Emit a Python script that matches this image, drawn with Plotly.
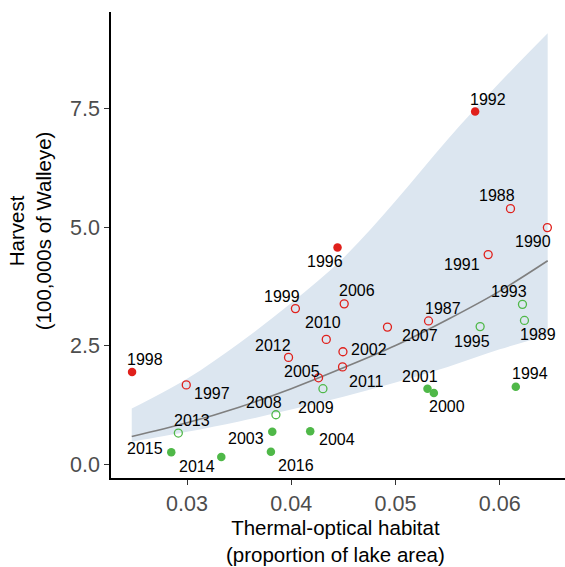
import plotly.graph_objects as go

# ---- data ----
years = [1987, 1988, 1989, 1990, 1991, 1992, 1993, 1994, 1995, 1996,
         1997, 1998, 1999, 2000, 2001, 2002, 2003, 2004, 2005, 2006,
         2007, 2008, 2009, 2010, 2011, 2012, 2013, 2014, 2015, 2016]
habitat = [0.05317, 0.06103, 0.06237, 0.06457, 0.05889, 0.05764, 0.06218, 0.06154, 0.05812, 0.04444,
           0.02993, 0.02473, 0.04040, 0.05368, 0.05307, 0.04496, 0.03818, 0.04182, 0.04262, 0.04508,
           0.04923, 0.03853, 0.04304, 0.04336, 0.04492, 0.03974, 0.02917, 0.03329, 0.02849, 0.03805]
harvest = [3.02, 5.39, 3.03, 4.99, 4.42, 7.44, 3.37, 1.63, 2.90, 4.57,
           1.67, 1.94, 3.28, 1.50, 1.59, 2.37, 0.68, 0.69, 1.82, 3.38,
           2.89, 1.04, 1.59, 2.63, 2.05, 2.25, 0.654, 0.148, 0.247, 0.26]
group = ["red", "red", "green", "red", "red", "red", "green", "green", "green", "red",
         "red", "red", "red", "green", "green", "red", "green", "green", "red", "red",
         "red", "green", "green", "red", "red", "red", "green", "green", "green", "green"]
filled = [False, False, False, False, False, True, False, True, False, True,
          False, True, False, True, True, False, True, True, False, False,
          False, False, False, False, False, False, False, True, True, True]

# fitted curve and confidence band
fit_x = [0.0247, 0.030, 0.035, 0.040, 0.045, 0.050, 0.055, 0.060, 0.0646]
fit_y = [0.58, 0.87, 1.20, 1.59, 2.03, 2.50, 3.05, 3.65, 4.29]
band_lo = [0.47, 0.68, 0.90, 1.15, 1.42, 1.72, 2.05, 2.42, 2.72]
band_hi = [1.17, 1.80, 2.55, 3.40, 4.35, 5.55, 6.85, 8.05, 9.09]

x_ticks = [0.03, 0.04, 0.05, 0.06]
x_tick_labels = ["0.03", "0.04", "0.05", "0.06"]
y_ticks = [0.0, 2.5, 5.0, 7.5]
y_tick_labels = ["0.0", "2.5", "5.0", "7.5"]

# label offsets (pixels, right / down) -- layout only
label_dx = [14, -13, 14, -14, -26, 13, -13, 14, -8, -13,
            26, 13, -13, 13, -8, 26, -26, 27, -17, 13,
            33, -12, -7, -3, 24, -16, 14, -24, -26, 25]
label_dy = [-12, -13, 14, 14, 10, -12, -13, -13, 15, 14,
            9, -13, -12, 14, -12, -2, 7, 8, -6, -13,
            8, -12, 19, -17, 15, -12, -13, 9, -4, 14]

RED = "#E0201B"
GREEN = "#4FB848"
FONT = "Liberation Sans, Arial, sans-serif"

fig = go.Figure()

fig.add_trace(go.Scatter(x=fit_x, y=band_lo, mode="lines", line=dict(width=0, shape="spline"),
                         hoverinfo="skip", showlegend=False))
fig.add_trace(go.Scatter(x=fit_x, y=band_hi, mode="lines", line=dict(width=0, shape="spline"),
                         fill="tonexty", fillcolor="#DCE6F0", hoverinfo="skip", showlegend=False))
fig.add_trace(go.Scatter(x=fit_x, y=fit_y, mode="lines",
                         line=dict(color="#7F7F7F", width=1.6, shape="spline"),
                         hoverinfo="skip", showlegend=False))

for col, cname in [("red", RED), ("green", GREEN)]:
    for fl in [False, True]:
        idx = [i for i in range(len(years)) if group[i] == col and filled[i] == fl]
        fig.add_trace(go.Scatter(
            x=[habitat[i] for i in idx], y=[harvest[i] for i in idx],
            mode="markers", showlegend=False,
            marker=dict(size=8.5 if fl else 8,
                        symbol="circle" if fl else "circle-open",
                        color=cname,
                        line=dict(color=cname, width=1.3 if not fl else 0)),
        ))

for i, yr in enumerate(years):
    fig.add_annotation(x=habitat[i], y=harvest[i], text=str(yr), showarrow=False,
                       xshift=label_dx[i], yshift=-label_dy[i],
                       font=dict(family=FONT, size=16, color="black"))

fig.add_annotation(xref="paper", yref="paper", x=-0.178, y=0.53,
                   text="Harvest<br>(100,000s of Walleye)", textangle=-90, showarrow=False,
                   xanchor="center", yanchor="middle",
                   font=dict(family=FONT, size=20.5, color="black"))
fig.add_annotation(xref="paper", yref="paper", x=0.494, y=-0.135,
                   text="Thermal-optical habitat<br>(proportion of lake area)", showarrow=False,
                   xanchor="center", yanchor="middle",
                   font=dict(family=FONT, size=20.5, color="black"))

fig.update_layout(
    width=565, height=567,
    margin=dict(l=111, r=0, t=12, b=89),
    plot_bgcolor="white", paper_bgcolor="white",
    xaxis=dict(range=[0.02271, 0.06626], tickvals=x_ticks, ticktext=x_tick_labels,
               showgrid=False, zeroline=False, showline=True, linecolor="black", linewidth=1.6,
               ticks="outside", ticklen=5, tickwidth=1.3, tickcolor="#333333",
               tickfont=dict(family=FONT, size=21.5, color="#4D4D4D")),
    yaxis=dict(range=[-0.295, 9.54], tickvals=y_ticks, ticktext=y_tick_labels,
               showgrid=False, zeroline=False, showline=True, linecolor="black", linewidth=1.6,
               ticks="outside", ticklen=5, tickwidth=1.3, tickcolor="#333333",
               tickfont=dict(family=FONT, size=21.5, color="#4D4D4D")),
)

fig.write_html("out.html")
